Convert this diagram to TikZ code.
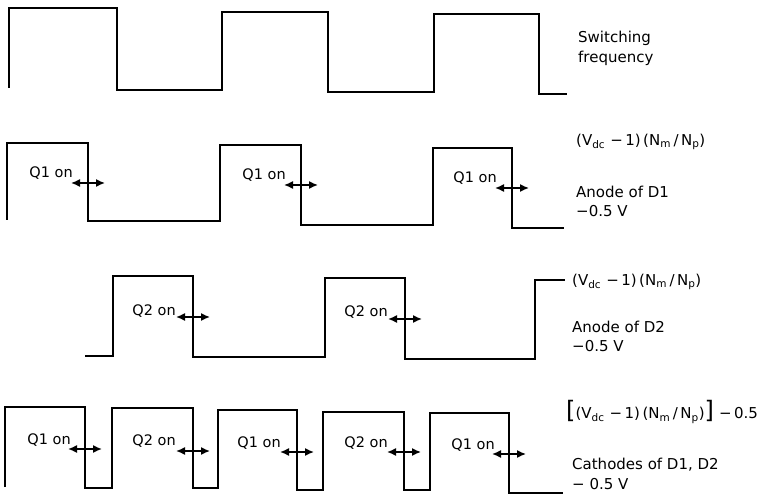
\documentclass[tikz,border=0pt]{standalone}
\usepackage{fontspec}
\setmainfont{DejaVu Sans}
\usetikzlibrary{arrows.meta}
\newcommand{\vnexpr}{(V\textsubscript{dc}\,\,−\,1)\,(N\textsubscript{m}\,/\,N\textsubscript{p})}
\begin{document}
\begin{tikzpicture}[x=1pt,y=-1pt,
  wave/.style={line width=1.8pt, line join=miter},
  dbl/.style={{Latex[length=9pt,width=8pt]}-{Latex[length=9pt,width=8pt]}, line width=1.5pt},
  qtxt/.style={inner sep=0pt, anchor=base east, font=\fontsize{14.5}{16}\selectfont},
  lbl/.style={inner sep=0pt, anchor=west, font=\fontsize{15}{17}\selectfont}]
\useasboundingbox (0,0) rectangle (780,497);

% Switching frequency
\draw[wave] (9,88) -- (9,8) -- (117,8) -- (117,90) -- (222,90) -- (222,12) -- (328,12) -- (328,92) -- (434,92) -- (434,14) -- (539,14) -- (539,94) -- (567,94);

% Anode of D1
\draw[wave] (7,220) -- (7,143) -- (88,143) -- (88,221) -- (220,221) -- (220,145) -- (301,145) -- (301,225) -- (433,225) -- (433,148) -- (512,148) -- (512,228) -- (564,228);

% Anode of D2
\draw[wave] (85,356) -- (113,356) -- (113,276) -- (193,276) -- (193,357) -- (325,357) -- (325,278) -- (405,278) -- (405,359) -- (535,359) -- (535,280) -- (565,280);

% Cathodes
\draw[wave] (5,487) -- (5,407) -- (85,407) -- (85,488) -- (112,488) -- (112,408) -- (193,408) -- (193,488) -- (218,488) -- (218,410) -- (297,410) -- (297,490) -- (323,490) -- (323,412) -- (404,412) -- (404,490) -- (430,490) -- (430,413) -- (509,413) -- (509,493) -- (563,493);

% Row 2 arrows and texts
\coordinate (a1l) at (71,183);  \coordinate (a1r) at (105,183);
\coordinate (a2l) at (284,185); \coordinate (a2r) at (318,185);
\coordinate (a3l) at (495,188); \coordinate (a3r) at (529,188);
\draw[dbl] (a1l) -- (a1r);
\draw[dbl] (a2l) -- (a2r);
\draw[dbl] (a3l) -- (a3r);
\node[qtxt] (t1) at (73,178) {Q1 on};
\node[qtxt] (t2) at (286,180) {Q1 on};
\node[qtxt] (t3) at (497,183) {Q1 on};

% Row 3 arrows and texts
\coordinate (b1l) at (176,317); \coordinate (b1r) at (210,317);
\coordinate (b2l) at (388,319); \coordinate (b2r) at (422,319);
\draw[dbl] (b1l) -- (b1r);
\draw[dbl] (b2l) -- (b2r);
\node[qtxt] (u1) at (176,316) {Q2 on};
\node[qtxt] (u2) at (388,317) {Q2 on};

% Row 4 arrows and texts
\coordinate (c1l) at (68,449);  \coordinate (c1r) at (102,449);
\coordinate (c2l) at (176,451); \coordinate (c2r) at (210,451);
\coordinate (c3l) at (280,452); \coordinate (c3r) at (314,452);
\coordinate (c4l) at (387,452); \coordinate (c4r) at (421,452);
\coordinate (c5l) at (492,454); \coordinate (c5r) at (526,454);
\draw[dbl] (c1l) -- (c1r);
\draw[dbl] (c2l) -- (c2r);
\draw[dbl] (c3l) -- (c3r);
\draw[dbl] (c4l) -- (c4r);
\draw[dbl] (c5l) -- (c5r);
\node[qtxt] (w1) at (71,444) {Q1 on};
\node[qtxt] (w2) at (176,446) {Q2 on};
\node[qtxt] (w3) at (281,447) {Q1 on};
\node[qtxt] (w4) at (388,447) {Q2 on};
\node[qtxt] (w5) at (495,449) {Q1 on};

% Right labels
\node[lbl] (sw1) at (578,38) {Switching};
\node[lbl] (sw2) at (578,58) {frequency};
\node[lbl] (v1) at (576,142) {\vnexpr};
\node[lbl] (an1) at (576,192) {Anode of D1};
\node[lbl] (mv1) at (576,211) {−0.5 V};
\node[lbl] (v2) at (572,282) {\vnexpr};
\node[lbl] (an2) at (572,327) {Anode of D2};
\node[lbl] (mv2) at (572,346) {−0.5 V};
\node[lbl] (v3) at (566,412) {{\fontsize{24}{24}\selectfont[}\vnexpr{\fontsize{24}{24}\selectfont]}\,\,−\,0.5};
\node[lbl] (ca) at (572,465) {Cathodes of D1, D2};
\node[lbl] (mv3) at (572,484) {− 0.5 V};
\end{tikzpicture}
\end{document}
